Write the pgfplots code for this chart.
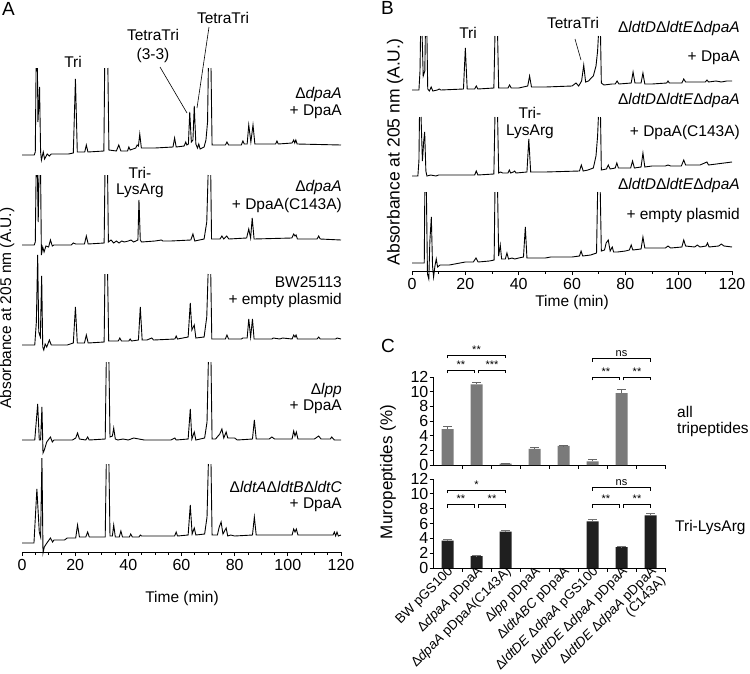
\documentclass[border=0pt]{standalone}
\usepackage{fontspec}
\setmainfont{Liberation Sans}
\usepackage{pgfplots}
\pgfplotsset{compat=1.18}
\newcommand\fs[1]{\fontsize{#1pt}{#1pt}\selectfont}
\begin{document}
\begin{tikzpicture}
\path[use as bounding box] (0,0) rectangle (750pt,-673pt);
\pgfplotsset{
 chrom/.style={scale only axis, clip=false, axis x line=bottom, axis y line=none,
   axis line style={-, line width=0.8pt}, xmin=0, xmax=120, ymin=0,
   xtick={0,20,...,120}, tick style={black, line width=0.8pt}, tick align=outside,
   major tick length=4pt, minor tick length=2.5pt,
   xticklabel style={font=\fs{16}}, /pgf/number format/assume math mode=true,
   unbounded coords=jump},
 tr/.style={black, line width=0.9pt, no markers},
 cbar/.style={scale only axis, clip=false, axis lines=left, axis line style={-, line width=0.8pt},
   xmin=-0.5, xmax=7.5, ymin=0, ymax=12, width=232pt, ytick={0,2,...,12},
   yticklabel style={font=\fs{16}, inner sep=1pt}, tick style={black, line width=0.8pt},
   tick align=outside, major tick length=3.5pt,
   xtick={0.5,1.5,...,7.5}, xticklabels={},
   /pgf/number format/assume math mode=true, ybar, bar width=12pt},
}
% ---------------- Panel A ----------------
\begin{axis}[chrom, at={(22pt,-552pt)}, anchor=south west, width=319pt, height=500pt, ymax=500, minor x tick num=3]
\addplot[tr] coordinates {(0,397)(4.6,397)(5.0,400)(5.3,484)(5.6,nan)(5.8,484)(6.0,430)(6.6,465)(7.0,400)(7.3,392)(8.0,400)(8.5,393)(9.5,398)(10.3,396)(11,398)(17.5,398)
(19.3,399)(20.1,473)(20.8,400)(23.6,400)(24.2,407)(24.8,400)
(30.8,401)(31.1,484)(31.7,nan)(32.3,484)(32.7,402)(35.5,401)(36.4,407)(37.2,401)(39.7,401)(40.2,405)(40.7,402)(42.8,404)(43.3,407)(43.8,406)(44.3,418)(44.9,404)(50,404)(56.8,405)(57.4,414)(58,405)(61.0,406)(61.6,410)(62.0,407)
(62.6,408)(63.1,440)(63.7,410)(64.3,412)(64.8,446)(65.4,408)(66,404)(66.5,408)(67,403)(68.5,405)
(69.2,412)(69.8,430)(70.1,484)(70.6,nan)(71.1,484)(71.5,407)(76.5,407)(77.1,410)(77.7,407)(82.5,407)(83.1,411)(83.6,408)
(84.7,408)(85.3,427)(86.1,410)(86.9,427)(87.6,408)(95.4,408)(95.9,411)(96.4,408)(101.6,409)(102.2,412)(102.6,409)(103.0,412)(103.5,408)(120,407)};
\addplot[tr] coordinates {(0,307)(4.6,307)(5.0,310)(5.3,377)(5.6,nan)(5.8,377)(6.1,330)(6.4,377)(6.75,nan)(7.0,377)(7.3,297)(7.8,305)(8.3,300)(9.0,306)(10.0,305)(10.7,312)(11.4,306)(12,307)
(18.5,307)(19.3,309)(20.2,308)(23.5,308)(24.2,316)(24.9,308)
(30.9,309)(31.2,377)(31.7,nan)(32.2,377)(32.5,310)(33.5,312)(34.5,309)(35.5,311)(36.5,309)(37.5,311)(38.5,310)(40,311)(41,312)(42,310)(43.6,312)(44.0,352)(44.5,312)(45,310)(50,311)(52.5,312)(53,311)(56,311)
(63.5,312)(64.3,318)(65,311)(68.5,313)(69.5,330)(70.0,377)(70.5,nan)(71.0,377)(71.3,313)
(74.5,313)(75.2,316)(75.9,313)(77.0,316)(77.8,313)(84.5,314)(85.3,323)(86.0,314)(86.6,334)(87.3,313)
(101.5,314)(102.2,318)(102.7,316)(103.1,317)(103.6,313)(111,313)(111.6,316)(112.2,313)(120,312)};
\addplot[tr] coordinates {(0,207)(4.8,207)(5.4,230)(5.9,297)(6.3,220)(6.9,215)(7.4,276)(7.8,205)(8.2,202)(8.7,208)(9.3,205)(10.3,212)(11,207)
(17,207)(19.3,209)(20.1,245)(20.8,209)(23.5,209)(24.2,217)(24.9,209)
(30.9,210)(31.2,278)(31.7,nan)(32.2,278)(32.6,211)(36.2,211)(36.8,214)(37.4,211)(40.2,211)(40.7,213)(41.2,211)(43.8,212)(44.5,245)(45.2,212)
(47,212)(48.8,214)(49.5,212)(57.5,213)(58,216)(58.5,213)
(62.5,215)(63.3,249)(63.9,222)(64.8,227)(65.4,214)(68.5,215)(69.5,235)(70.0,278)(70.5,nan)(71.0,278)(71.4,213)
(76.5,213)(77.1,217)(77.7,213)(82.5,213)(83.1,214)(84.7,214)(85.3,233)(86.0,215)(86.7,233)(87.3,213)
(94,213)(94.5,214)(97,213)(98,214)(101.6,213)(102.2,217)(102.7,215)(103.1,217)(103.6,213)(111,213)(111.6,215)(112.2,213)(118,213)(118.5,214)(120,213)};
\addplot[tr] coordinates {(0,112)(4.8,112)(5.9,148)(6.5,112)(7.0,112)(7.5,145)(7.9,99)(8.4,102)(9.3,110)(10.7,115)(11.4,110)(12,112)
(19,112)(20.2,114)(20.9,119)(21.6,113)(24,112)(24.7,115)(25.3,112)
(31.3,113)(31.7,190)(32.2,nan)(32.7,190)(33.1,115)(34.0,116)(34.5,124)(35.1,113)(36,112)(38,113)(40,112)(42,114)(44,113)(46,112)(56,112)(57.5,114)(58,112)
(62.5,113)(63.3,143)(63.9,113)(64.8,120)(65.4,112)(68.7,114)(69.6,130)(70.1,190)(70.6,nan)(71.1,190)(71.5,113)
(72.8,113)(74.4,118)(75.2,123)(75.9,114)(76.8,120)(77.4,114)(80,114)(81,112)(86.7,113)(87.4,132)(88.1,113)
(93,113)(94,115)(95,113)(101.6,113)(102.2,121)(102.7,116)(103.2,120)(103.8,113)(110,113)(111.6,116)(112.5,113)(116,113)(116.5,115)(117.5,112)(120,112)};
\addplot[tr] coordinates {(0,9)(4.5,9)(5.6,63)(6.5,20)(7.0,15)(7.5,94)(7.9,-1)(8.4,5)(9.1,8)(10.7,14)(11.5,10)(12,12)(16,12)(17,14)
(20.2,14)(20.9,27)(21.6,15)(24,15)(24.7,20)(25.3,15)
(31.3,15)(31.7,88)(32.2,nan)(32.7,88)(33.1,16)(34.0,16)(34.5,27)(35.1,15)(36.6,15)(37.2,21)(37.8,15)(40.4,15)(40.9,18)(41.5,15)(44,15)(44.5,17)(45,16)(57.4,16)(58,20)(58.5,16)
(62.5,17)(63.3,47)(64,18)(64.8,24)(65.4,17)(68.7,18)(69.6,35)(70.1,88)(70.6,nan)(71.1,88)(71.5,17)
(73.5,17)(74.2,25)(74.9,30)(75.6,18)(76.8,24)(77.4,16)(78.5,17)(80,16)(86.7,17)(87.4,35)(88.1,17)
(101.6,17)(102.2,23)(102.7,20)(103.2,23)(103.8,17)(117,17)(117.5,20)(118,16)(118.5,20)(119,16)(120,17)};
\end{axis}
\node[font=\fs{19}, anchor=north west, inner sep=0] at (2pt,-2pt) {A};
\node[rotate=90, font=\fs{15.5}] at (7pt,-308pt) {Absorbance at 205 nm (A.U.)};
\node[font=\fs{15.5}] at (182pt,-598pt) {Time (min)};
\begin{scope}[every node/.style={font=\fs{15.5}, inner sep=0}]
\node[anchor=east] at (342pt,-94pt) {Δ\textit{dpaA}};
\node[anchor=east] at (342pt,-112pt) {+ DpaA};
\node[anchor=east] at (342pt,-187pt) {Δ\textit{dpaA}};
\node[anchor=east] at (342pt,-205pt) {+ DpaA(C143A)};
\node[anchor=east] at (342pt,-282pt) {BW25113};
\node[anchor=east] at (342pt,-300pt) {+ empty plasmid};
\node[anchor=east] at (342pt,-390pt) {Δ\textit{lpp}};
\node[anchor=east] at (342pt,-407pt) {+ DpaA};
\node[anchor=east] at (342pt,-487pt) {Δ\textit{ldtA}Δ\textit{ldtB}Δ\textit{ldtC}};
\node[anchor=east] at (342pt,-505pt) {+ DpaA};
\node at (73pt,-62pt) {Tri};
\node at (153pt,-35pt) {TetraTri};
\node at (153pt,-55pt) {(3-3)};
\node at (223pt,-18pt) {TetraTri};
\node at (140pt,-173pt) {Tri-};
\node at (140pt,-191pt) {LysArg};
\end{scope}
\draw[line width=0.6pt] (160pt,-67pt) -- (187pt,-113pt);
\draw[line width=0.6pt] (209pt,-27pt) -- (197pt,-108pt);
% ---------------- Panel B ----------------
\begin{axis}[chrom, at={(412pt,-271pt)}, anchor=south west, width=320pt, height=250pt, ymax=250, minor x tick num=1]
\addplot[tr] coordinates {(0,181)(2.6,181)(3.0,200)(3.2,235)(3.5,nan)(3.8,235)(4.2,195)(4.8,200)(5.0,235)(5.3,nan)(5.6,235)(5.9,182)(6.5,180)(7.2,184)(7.8,180)(9.5,181)(10.2,182)(10.8,181)
(19.3,182)(20.0,223)(20.7,182)(23.5,182)(24.1,185)(24.7,182)
(30.7,183)(31.1,235)(31.6,nan)(32.1,235)(32.5,183)(36,183)(36.6,186)(37.2,183)(40,183)(43.4,185)(44.1,195)(44.8,184)(50,184)
(60,185)(61.5,188)(62.5,185)(63.6,190)(64.4,206)(65.1,189)(66.2,190)(67.2,193)
(68.0,195)(69.0,205)(69.6,220)(69.9,235)(70.3,nan)(70.7,235)(71.0,188)(72,186)(75,187)(76.2,187)(76.9,190)(77.6,187)
(82.2,188)(82.9,199)(83.6,188)(85.9,188)(86.6,198)(87.3,187)(90,187)(95.5,188)(96,190)(96.5,188)(101.2,188)(101.9,192)(102.6,189)(107,189)(110,189)(110.6,191)(111.2,189)(114,190)(116,189)(118,190)(120,190)};
\addplot[tr] coordinates {(0,95)(2.2,95)(2.6,110)(2.8,154)(3.1,nan)(3.4,154)(3.9,110)(4.4,130)(4.75,139)(5.2,100)(5.6,95)(7,96)(9,95)(10,96)
(23.5,96)(24.1,100)(24.7,96)
(30.7,97)(31.1,154)(31.6,nan)(32.1,154)(32.5,98)(33.2,99)(34,98)(36,98)(36.5,101)(37,98)(38,99)(38.5,100)(39,98)
(43.1,99)(43.8,132)(44.5,99)(50,99)(62.8,100)(63.5,106)(64.2,100)(66,101)
(68.0,103)(69.0,115)(69.6,135)(69.9,154)(70.3,nan)(70.7,154)(71.0,101)(72.9,102)(73.6,106)(74.3,102)(76.2,103)(76.8,108)(77.4,103)
(82,103)(82.7,110)(83.4,103)(85.9,104)(86.6,118)(87.3,104)(90,105)(95,105)(96,106)(97,105)(101,105)(101.9,111)(102.6,106)(108,106)(110.6,109)(111.2,106)(120,109)};
\addplot[tr] coordinates {(0,8)(4.6,8)(4.8,79)(5.1,nan)(5.4,79)(5.8,-3)(6.3,-8)(6.7,30)(7.25,54)(7.7,5)(8.1,-6)(8.6,5)(9.1,12)(9.6,4)(10.5,6)
(14,6)(18,8)(20,9)(23,9)(24,13)(24.8,9)(29,10)
(30.8,11)(31.1,79)(31.6,nan)(32.1,79)(32.5,15)(33.1,26)(33.6,12)(35,12)(35.6,18)(36.2,12)(37.5,13)(38.5,12)(40,13)
(41.8,14)(42.5,44)(43.1,13)(50,13)(52,14)(60,14)(62.8,15)(63.4,20)(64,15)(67,16)
(69.2,18)(69.6,79)(70.1,nan)(70.6,79)(71.0,20)(72.2,21)(72.8,28)(73.6,31)(74.3,20)(75.1,24)(75.6,19)(77,19)(80,20)(81.5,21)(82.2,26)(82.8,21)(85.9,22)(86.6,34)(87.3,23)
(90,23)(95,23)(96,25)(97,23)(101.2,24)(101.9,31)(102.6,25)(106,24)(107,26)(108,24)(110.3,25)(110.8,28)(111.4,24)(115,25)(116,27)(117,25)(120,24)};
\end{axis}
\node[font=\fs{19}, anchor=north west, inner sep=0] at (381pt,-1pt) {B};
\node[rotate=90, font=\fs{17.5}] at (395pt,-152pt) {Absorbance at 205 nm (A.U.)};
\node[font=\fs{15.5}] at (572pt,-302pt) {Time (min)};
\begin{scope}[every node/.style={font=\fs{15.5}, inner sep=0}]
\node[anchor=east] at (740pt,-28pt) {Δ\textit{ldtD}Δ\textit{ldtE}Δ\textit{dpaA}};
\node[anchor=east] at (740pt,-58pt) {+ DpaA};
\node[anchor=east] at (740pt,-100pt) {Δ\textit{ldtD}Δ\textit{ldtE}Δ\textit{dpaA}};
\node[anchor=east] at (740pt,-132pt) {+ DpaA(C143A)};
\node[anchor=east] at (740pt,-185pt) {Δ\textit{ldtD}Δ\textit{ldtE}Δ\textit{dpaA}};
\node[anchor=east] at (740pt,-215pt) {+ empty plasmid};
\node at (468pt,-33pt) {Tri};
\node at (573pt,-23pt) {TetraTri};
\node at (530pt,-113pt) {Tri-};
\node at (530pt,-132pt) {LysArg};
\end{scope}
\draw[line width=0.6pt] (575pt,-39pt) -- (581pt,-60pt);
% ---------------- Panel C ----------------
\begin{axis}[cbar, at={(433pt,-465pt)}, anchor=south west, height=88pt]
\addplot[fill=black!52, draw=none, error bars/.cd, y dir=plus, y explicit,
  error bar style={line width=1pt, color=black!60},
  error mark options={rotate=90, mark size=4.5pt, line width=1pt, color=black!60}]
  coordinates {(0,4.9) +- (0,0.3) (1,11.0) +- (0,0.25) (2,0.2) +- (0,0.05) (3,2.2) +- (0,0.2) (4,2.6) +- (0,0.05) (5,0.5) +- (0,0.3) (6,9.8) +- (0,0.5)};
\begin{scope}[line width=0.8pt, every node/.style={font=\fs{11}, inner sep=1.5pt}]
\draw (axis cs:0,14.55) -- (axis cs:0,15.0) -- node[above]{**} (axis cs:2,15.0) -- (axis cs:2,14.55);
\draw (axis cs:0,12.5) -- (axis cs:0,12.95) -- node[above]{**} (axis cs:0.93,12.95) -- (axis cs:0.93,12.5);
\draw (axis cs:1.07,12.5) -- (axis cs:1.07,12.95) -- node[above]{***} (axis cs:2,12.95) -- (axis cs:2,12.5);
\draw (axis cs:5,14.05) -- (axis cs:5,14.5) -- node[above]{ns} (axis cs:7,14.5) -- (axis cs:7,14.05);
\draw (axis cs:5,11.55) -- (axis cs:5,12.0) -- node[above]{**} (axis cs:5.93,12.0) -- (axis cs:5.93,11.55);
\draw (axis cs:6.07,11.55) -- (axis cs:6.07,12.0) -- node[above]{**} (axis cs:7,12.0) -- (axis cs:7,11.55);
\end{scope}
\end{axis}
\begin{axis}[cbar, at={(433pt,-568pt)}, anchor=south west, height=89pt,
  extra x ticks={0,...,7},
  extra x tick labels={BW pGS100, Δ\textit{dpaA} pDpaA, Δ\textit{dpaA} pDpaA(C143A), Δ\textit{lpp} pDpaA, Δ\textit{ldtABC} pDpaA, Δ\textit{ldtDE} Δ\textit{dpaA} pGS100, Δ\textit{ldtDE} Δ\textit{dpaA} pDpaA, {Δ\textit{ldtDE} Δ\textit{dpaA} pDpaA\\(C143A)}},
  extra x tick style={major tick length=0pt, xticklabel style={rotate=45, anchor=north east, align=right, font=\fs{13.4}, inner sep=0.5pt, xshift=2pt, yshift=3pt}}]
\addplot[fill=black!88, draw=none, error bars/.cd, y dir=plus, y explicit,
  error bar style={line width=1pt, color=black!55},
  error mark options={rotate=90, mark size=4.5pt, line width=1pt, color=black!55}]
  coordinates {(0,3.7) +- (0,0.12) (1,1.6) +- (0,0.06) (2,4.9) +- (0,0.2) (5,6.3) +- (0,0.3) (6,2.8) +- (0,0.06) (7,7.1) +- (0,0.2)};
\begin{scope}[line width=0.8pt, every node/.style={font=\fs{11}, inner sep=1.5pt}]
\draw (axis cs:0,10.05) -- (axis cs:0,10.5) -- node[above]{*} (axis cs:2,10.5) -- (axis cs:2,10.05);
\draw (axis cs:0,8.15) -- (axis cs:0,8.6) -- node[above]{**} (axis cs:0.93,8.6) -- (axis cs:0.93,8.15);
\draw (axis cs:1.07,8.15) -- (axis cs:1.07,8.6) -- node[above]{**} (axis cs:2,8.6) -- (axis cs:2,8.15);
\draw (axis cs:5,10.45) -- (axis cs:5,10.9) -- node[above]{ns} (axis cs:7,10.9) -- (axis cs:7,10.45);
\draw (axis cs:5,8.15) -- (axis cs:5,8.6) -- node[above]{**} (axis cs:5.93,8.6) -- (axis cs:5.93,8.15);
\draw (axis cs:6.07,8.15) -- (axis cs:6.07,8.6) -- node[above]{**} (axis cs:7,8.6) -- (axis cs:7,8.15);
\end{scope}
\end{axis}
\node[font=\fs{19}, anchor=north west, inner sep=0] at (381pt,-339pt) {C};
\node[rotate=90, font=\fs{17}] at (388pt,-472pt) {Muropeptides (\%)};
\begin{scope}[every node/.style={font=\fs{15.5}, inner sep=0, anchor=west}]
\node at (677pt,-412pt) {all};
\node at (677pt,-429pt) {tripeptides};
\node at (675pt,-527pt) {Tri-LysArg};
\end{scope}
\end{tikzpicture}
\end{document}
